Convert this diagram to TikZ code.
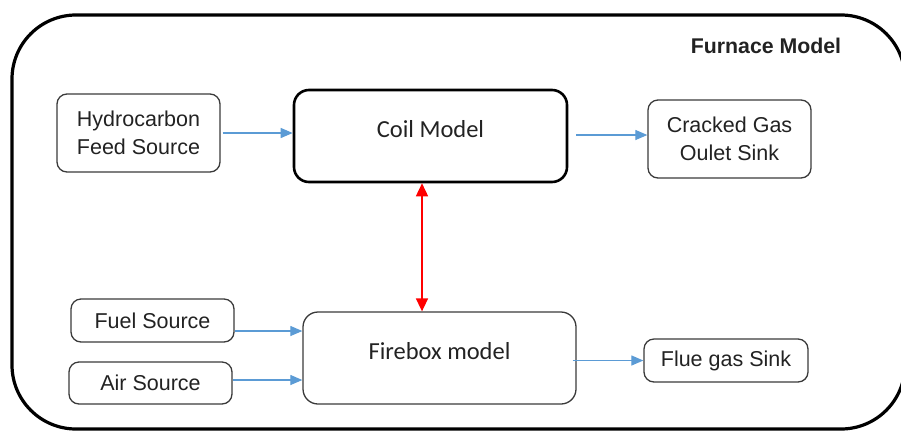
\documentclass[tikz,border=0pt]{standalone}
\usepackage{fontspec}
\setmainfont{Liberation Sans}
\newfontfamily\calibrifont{Carlito}
\usetikzlibrary{arrows.meta}

\definecolor{flowblue}{HTML}{5B9BD5}
\definecolor{boxline}{HTML}{3A3A3A}
\definecolor{ink}{HTML}{222222}

\tikzset{
  unitbox/.style={draw=boxline, line width=1.3pt, rounded corners=10pt,
    align=center, text=ink, inner sep=0pt,
    font=\fontsize{21.5}{28}\selectfont},
  modelbox/.style={draw=boxline, line width=1.3pt, rounded corners=15pt,
    align=center, text=ink, inner sep=0pt,
    minimum width=273pt, minimum height=92pt,
    font=\calibrifont\fontsize{24.5}{28}\selectfont,
    text height=17pt, text depth=14pt},
  flow/.style={draw=flowblue, line width=1.2pt,
    -{Triangle[length=12pt,width=10pt]}},
  exchange/.style={draw=red, line width=1.6pt,
    {Triangle[length=13pt,width=12pt]}-{Triangle[length=13pt,width=12pt]}}
}

\begin{document}
\begin{tikzpicture}[x=1pt,y=-1pt]
  \useasboundingbox (0,0) rectangle (901,432);
  \clip (0,0) rectangle (901,432);

  % furnace enclosure
  \draw[line width=3.2pt, rounded corners=64pt] (12,15) rectangle (905,429);
  \node[font=\bfseries\fontsize{21.3}{24}\selectfont, text=ink] (title) at (766,46) {Furnace Model};

  % coil side
  \node[unitbox, minimum width=163pt, minimum height=78pt] (hc) at (138.5,133)
    {Hydrocarbon\\Feed Source};
  \node[modelbox, draw=black, line width=2.6pt] (coil) at (430.5,136) {Coil Model};
  \node[unitbox, minimum width=163pt, minimum height=78pt] (cracked) at (729.5,139)
    {Cracked Gas\\Oulet Sink};

  % firebox side
  \node[unitbox, minimum width=163pt, minimum height=43pt] (fuel) at (152.5,320.5) {Fuel Source};
  \node[unitbox, minimum width=163pt, minimum height=42pt] (air) at (150.5,383) {Air Source};
  \node[modelbox] (firebox) at (439.5,358) {Firebox model};
  \node[unitbox, minimum width=164pt, minimum height=43pt] (flue) at (726,360.5) {Flue gas Sink};

  % material flows
  \draw[flow] ([xshift=2pt]hc.east) -- (hc.east -| coil.west);
  \coordinate (coilout) at ([xshift=8pt,yshift=1pt]coil.east);
  \draw[flow] (coilout) -- (coilout -| cracked.west);
  \coordinate (fuelout) at ([yshift=-10.5pt]fuel.east);
  \draw[flow] (fuelout) -- (fuelout -| firebox.west);
  \coordinate (airout) at ([yshift=3pt]air.east);
  \draw[flow] (airout) -- (airout -| firebox.west);
  \coordinate (fireout) at ([xshift=-4pt]firebox.east |- flue.west);
  \draw[flow] (fireout) -- (flue.west);

  % heat exchange between coil and firebox
  \coordinate (heat) at (422,250);
  \draw[exchange] (heat |- coil.south) -- (heat |- firebox.north);
\end{tikzpicture}
\end{document}
